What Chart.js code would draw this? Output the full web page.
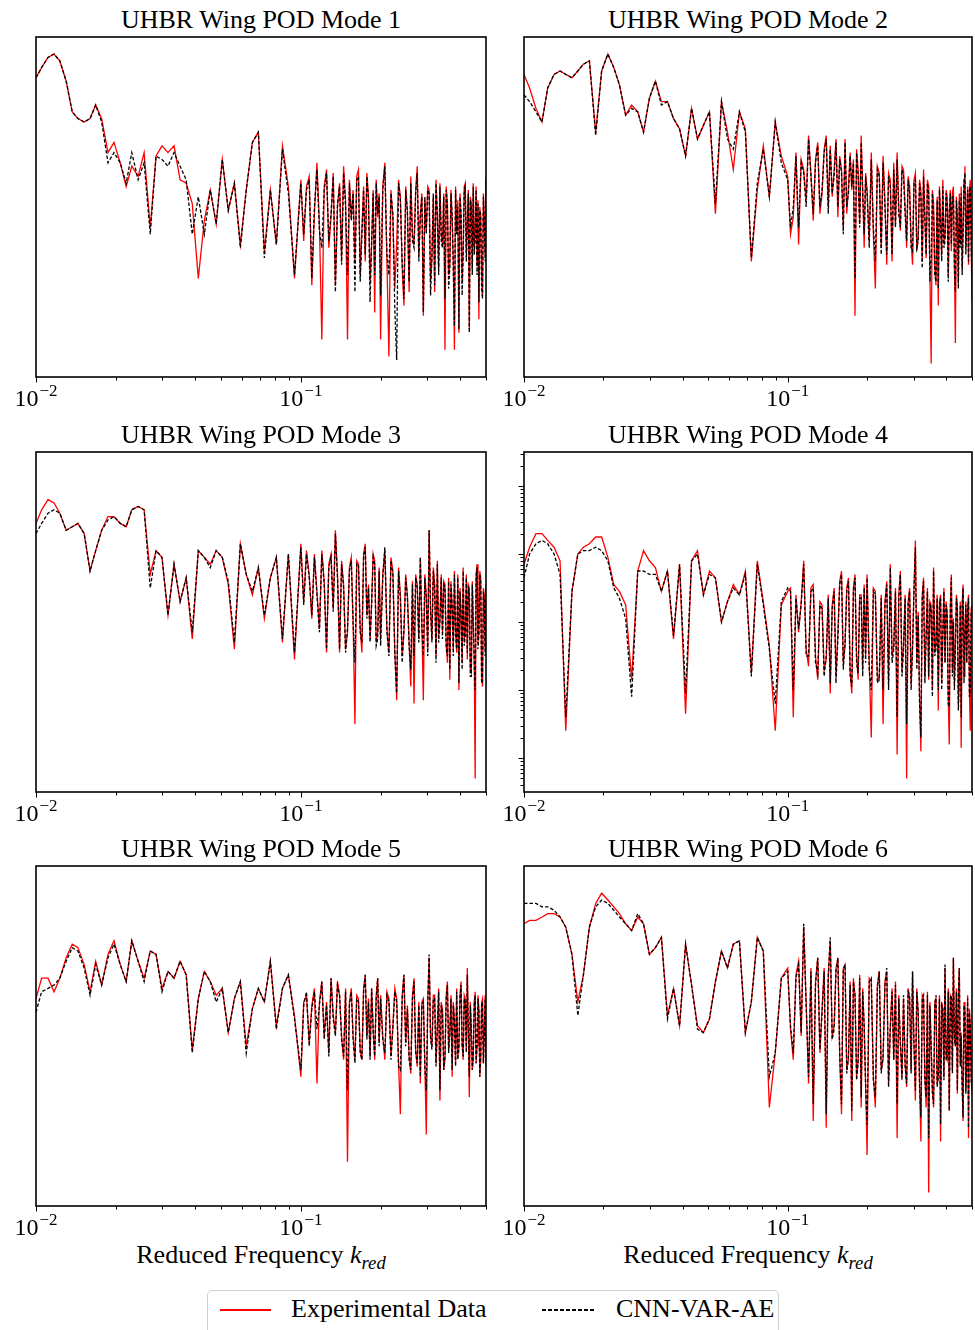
<!DOCTYPE html>
<html>
<head>
<meta charset="utf-8">
<script src="https://cdn.jsdelivr.net/npm/chart.js"></script>
<style>
  body { margin: 0; background: #fff; }
  #page { position: relative; width: 975px; height: 1330px; overflow: hidden; background: #fff;
          font-family: "Liberation Serif", "DejaVu Serif", serif; color: #000; }
  canvas { position: absolute; }
  .title { position: absolute; text-align: center; font-size: 26px; line-height: 30px; white-space: nowrap; }
  .xlabel { position: absolute; text-align: center; font-size: 26px; line-height: 30px; white-space: nowrap; }
  .xlabel sub { font-size: 0.72em; vertical-align: -0.3em; line-height: 0; }
  #legend { position: absolute; left: 207px; top: 1290px; width: 570px; height: 52px;
            border: 1px solid #d0d0d0; border-radius: 5px; background: #fff; }
  #legend .txt { position: absolute; top: 3px; font-size: 26px; line-height: 30px; white-space: nowrap; }
  #legend .solid { position: absolute; left: 12px; top: 18px; width: 51px; height: 1.5px; background: #ff0000; }
  #legend .dash { position: absolute; left: 334px; top: 18px; width: 54px; height: 1.5px;
                  background: repeating-linear-gradient(to right, #000 0 4px, transparent 4px 6px); }
</style>
</head>
<body>
<div id="page">
  <div id="legend">
    <div class="solid"></div><div class="txt" style="left:83px">Experimental Data</div>
    <div class="dash"></div><div class="txt" style="left:408px">CNN-VAR-AE</div>
  </div>
</div>
<script>
// Reduced frequency grid (shared by all modes)
const FREQ = [
  0.0100, 0.0105, 0.0111, 0.0117, 0.0123, 0.0130, 0.0137, 0.0144, 0.0152, 0.0160, 0.0168,
  0.0177, 0.0187, 0.0197, 0.0208, 0.0219, 0.0230, 0.0243, 0.0256, 0.0270, 0.0284, 0.0299,
  0.0315, 0.0332, 0.0350, 0.0369, 0.0389, 0.0410, 0.0432, 0.0455, 0.0479, 0.0505, 0.0532,
  0.0561, 0.0591, 0.0622, 0.0656, 0.0691, 0.0728, 0.0767, 0.0808, 0.0852, 0.0897, 0.0946,
  0.1000, 0.1025, 0.1050, 0.1075, 0.1100, 0.1125, 0.1150, 0.1175, 0.1200, 0.1225,
  0.1250, 0.1275, 0.1300, 0.1325, 0.1350, 0.1375, 0.1400, 0.1425, 0.1450, 0.1475,
  0.1500, 0.1525, 0.1550, 0.1575, 0.1600, 0.1625, 0.1650, 0.1675, 0.1700, 0.1725,
  0.1750, 0.1775, 0.1800, 0.1825, 0.1850, 0.1875, 0.1900, 0.1925, 0.1950, 0.1975,
  0.2000, 0.2038, 0.2075, 0.2113, 0.2150, 0.2188, 0.2225, 0.2263, 0.2300, 0.2338,
  0.2375, 0.2413, 0.2450, 0.2488, 0.2525, 0.2563, 0.2600, 0.2638, 0.2675, 0.2713,
  0.2750, 0.2788, 0.2825, 0.2863, 0.2900, 0.2938, 0.2975, 0.3013, 0.3050, 0.3088,
  0.3125, 0.3163, 0.3200, 0.3238, 0.3275, 0.3313, 0.3350, 0.3388, 0.3425, 0.3463,
  0.3500, 0.3538, 0.3575, 0.3613, 0.3650, 0.3688, 0.3725, 0.3763, 0.3800, 0.3838,
  0.3875, 0.3913, 0.3950, 0.3988, 0.4025, 0.4063, 0.4100, 0.4138, 0.4175, 0.4213,
  0.4250, 0.4288, 0.4325, 0.4363, 0.4400, 0.4438, 0.4475, 0.4513, 0.4550, 0.4588,
  0.4625, 0.4663, 0.4700, 0.4738, 0.4775, 0.4813, 0.4850, 0.4888, 0.4925, 0.4963,
  0.5000
];

// Spectral amplitude in dB (20 dB per decade)
const MODE1_EXP = [
  -12, -9, -6, -5, -7, -13, -22, -24, -25, -24, -20,
  -24, -34, -31, -37, -44, -38, -41, -34, -56, -35, -32,
  -34, -32, -42, -43, -49, -71, -54, -45, -55, -36, -51,
  -43, -61, -45, -31, -28, -63, -45, -61, -32, -44, -71,
  -42, -60, -44, -41, -73, -52, -37, -55, -89, -44, -39, -62, -53, -40, -73, -50, -43, -65, -38, -48,
  -89, -42, -53, -45, -66, -41, -39, -70, -57, -44, -66, -40, -47, -72, -61, -45, -81, -42, -53, -46,
  -89, -44, -37, -66, -94, -45, -53, -74, -61, -42, -47, -68, -79, -44, -51, -75, -41, -58, -61, -45,
  -38, -64, -53, -46, -82, -48, -57, -44, -45, -72, -65, -47, -75, -42, -53, -68, -43, -58, -61, -46,
  -92, -44, -49, -70, -67, -45, -53, -66, -92, -44, -57, -48, -87, -46, -53, -72, -62, -44, -43, -64,
  -55, -45, -86, -47, -49, -68, -43, -62, -59, -44, -67, -48, -83, -50, -53, -70, -76, -46, -53, -64,
  -41
];
const MODE1_CNN = [
  -12, -9, -6, -5, -7, -13, -22, -24, -25, -24, -20,
  -25, -37, -34, -37, -43, -34, -42, -37, -58, -35, -36,
  -38, -34, -38, -42, -58, -47, -58, -45, -55, -36, -51,
  -43, -62, -45, -31, -28, -65, -45, -61, -33, -46, -70,
  -43, -58, -45, -42, -71, -50, -39, -57, -62, -45, -40, -60, -52, -41, -75, -49, -44, -67, -40, -50,
  -70, -43, -54, -46, -75, -42, -41, -72, -58, -45, -64, -41, -48, -78, -60, -46, -70, -43, -52, -47,
  -76, -45, -38, -64, -70, -46, -52, -80, -95, -43, -48, -66, -77, -45, -52, -72, -43, -60, -62, -46,
  -40, -66, -52, -47, -81, -47, -58, -45, -46, -76, -64, -46, -73, -43, -52, -70, -44, -60, -62, -47,
  -77, -45, -50, -74, -68, -46, -52, -68, -85, -45, -58, -50, -86, -47, -52, -76, -64, -45, -44, -66,
  -56, -46, -87, -48, -50, -70, -44, -64, -60, -45, -70, -49, -78, -51, -52, -74, -77, -47, -54, -66,
  -42
];

const MODE2_EXP = [
  -11, -15, -21, -25, -15, -11, -10, -11, -12, -10, -8,
  -7, -28, -10, -5, -9, -14, -23, -20, -22, -28, -18,
  -13, -19, -19, -24, -27, -35, -21, -30, -26, -22, -52,
  -19, -28, -39, -22, -27, -66, -45, -32, -47, -25, -35,
  -41, -58, -53, -34, -61, -36, -39, -48, -29, -40, -54, -36, -31, -52, -46, -33, -29, -50, -32, -47,
  -39, -30, -53, -35, -39, -56, -30, -52, -44, -34, -45, -36, -82, -33, -39, -55, -29, -45, -62, -40,
  -45, -60, -34, -58, -74, -38, -40, -62, -35, -48, -67, -40, -42, -66, -37, -55, -34, -50, -57, -38,
  -39, -50, -62, -41, -44, -60, -67, -42, -40, -63, -59, -42, -45, -66, -39, -52, -65, -42, -44, -70,
  -96, -45, -49, -68, -73, -47, -79, -44, -53, -64, -42, -60, -59, -45, -47, -70, -51, -45, -63, -46,
  -44, -66, -90, -47, -53, -72, -46, -60, -44, -68, -57, -42, -38, -62, -53, -44, -67, -45, -42, -60,
  -78
];
const MODE2_CNN = [
  -17, -19, -22, -25, -15, -11, -10, -11, -12, -10, -8,
  -7, -29, -10, -5, -9, -14, -23, -21, -22, -28, -18,
  -13, -20, -19, -24, -27, -35, -21, -30, -26, -22, -49,
  -19, -30, -33, -22, -28, -65, -43, -33, -47, -25, -37,
  -42, -56, -50, -35, -56, -37, -40, -50, -30, -41, -52, -37, -32, -50, -45, -34, -30, -52, -33, -46,
  -41, -31, -50, -36, -40, -58, -31, -50, -46, -35, -44, -37, -71, -34, -41, -56, -31, -46, -58, -41,
  -46, -62, -36, -56, -66, -39, -41, -64, -37, -50, -64, -41, -44, -64, -39, -56, -36, -52, -56, -39,
  -41, -52, -60, -42, -46, -62, -63, -43, -42, -62, -60, -43, -47, -68, -41, -54, -64, -43, -46, -72,
  -65, -46, -52, -70, -72, -48, -74, -45, -55, -66, -44, -62, -60, -46, -49, -72, -52, -46, -61, -47,
  -47, -68, -75, -48, -54, -74, -48, -62, -46, -70, -58, -43, -40, -64, -54, -45, -66, -46, -44, -62,
  -70
];

const MODE3_EXP = [
  -21, -17, -14, -15, -18, -23, -22, -21, -24, -35, -29,
  -23, -19, -19, -21, -22, -17, -16, -17, -36, -29, -31,
  -48, -33, -44, -37, -55, -29, -31, -33, -29, -31, -39,
  -58, -27, -36, -42, -34, -49, -37, -31, -56, -30, -61,
  -27, -44, -29, -36, -49, -30, -41, -52, -29, -38, -59, -33, -30, -46, -23, -36, -59, -32, -39, -58,
  -53, -34, -31, -50, -80, -32, -33, -52, -59, -30, -27, -48, -39, -55, -44, -30, -32, -56, -53, -34,
  -55, -36, -29, -52, -59, -31, -35, -58, -73, -34, -42, -60, -53, -36, -42, -56, -69, -38, -74, -36,
  -39, -55, -31, -50, -73, -36, -42, -58, -23, -46, -55, -34, -39, -60, -32, -54, -49, -36, -53, -38,
  -39, -56, -62, -37, -67, -38, -45, -58, -35, -52, -59, -36, -70, -40, -47, -62, -34, -55, -53, -36,
  -61, -39, -40, -64, -65, -38, -49, -60, -96, -36, -33, -56, -53, -35, -37, -66, -69, -40, -42, -58,
  -39
];
const MODE3_CNN = [
  -24, -21, -18, -17, -18, -23, -22, -21, -24, -35, -29,
  -23, -20, -19, -21, -22, -17, -16, -17, -40, -29, -31,
  -48, -33, -44, -37, -53, -29, -31, -34, -29, -31, -38,
  -56, -27, -36, -41, -34, -48, -37, -31, -55, -30, -59,
  -28, -45, -30, -37, -48, -31, -42, -53, -30, -39, -58, -34, -31, -47, -24, -37, -58, -33, -40, -59,
  -52, -35, -32, -51, -62, -33, -33, -53, -56, -31, -28, -49, -40, -56, -45, -31, -33, -57, -55, -35,
  -57, -37, -28, -53, -60, -32, -36, -60, -71, -35, -43, -62, -52, -37, -43, -57, -64, -39, -60, -37,
  -40, -56, -31, -52, -60, -37, -43, -60, -23, -47, -56, -35, -40, -62, -33, -56, -50, -37, -55, -39,
  -40, -58, -60, -38, -64, -39, -46, -60, -36, -54, -58, -37, -68, -41, -48, -64, -35, -57, -54, -37,
  -59, -40, -41, -66, -66, -39, -50, -62, -70, -37, -34, -58, -54, -36, -38, -68, -68, -41, -44, -60,
  -40
];

const MODE4_EXP = [
  -33, -28, -24, -24, -26, -28, -32, -82, -41, -30, -28,
  -27, -25, -25, -31, -39, -41, -45, -67, -35, -29, -32,
  -34, -41, -35, -55, -33, -77, -32, -29, -42, -35, -37,
  -50, -44, -39, -42, -35, -65, -32, -44, -57, -82, -45,
  -41, -40, -78, -42, -53, -44, -32, -58, -63, -40, -39, -60, -67, -44, -45, -64, -61, -42, -71, -45,
  -40, -66, -53, -38, -35, -62, -57, -40, -37, -64, -71, -40, -36, -60, -67, -42, -42, -64, -39, -60,
  -36, -62, -84, -40, -41, -66, -67, -42, -80, -44, -38, -68, -33, -60, -57, -40, -89, -42, -35, -64,
  -57, -42, -96, -44, -40, -68, -57, -40, -26, -62, -47, -72, -88, -42, -37, -66, -53, -40, -67, -44,
  -45, -70, -34, -58, -57, -42, -76, -44, -42, -68, -53, -40, -62, -44, -47, -72, -86, -45, -36, -64,
  -49, -68, -57, -42, -45, -74, -67, -44, -87, -45, -39, -66, -53, -44, -62, -46, -42, -70, -82, -46,
  -45
];
const MODE4_CNN = [
  -37, -30, -27, -26, -27, -30, -36, -78, -41, -30, -29,
  -29, -28, -29, -32, -40, -43, -49, -72, -35, -35, -36,
  -36, -41, -35, -54, -33, -71, -32, -30, -42, -36, -37,
  -50, -44, -40, -42, -36, -66, -33, -45, -58, -74, -44,
  -40, -41, -70, -43, -52, -45, -33, -60, -60, -41, -40, -62, -65, -45, -46, -66, -60, -43, -68, -46,
  -41, -68, -55, -39, -36, -64, -56, -41, -38, -66, -69, -41, -37, -62, -65, -43, -43, -66, -40, -62,
  -37, -64, -70, -41, -42, -68, -66, -43, -70, -45, -39, -70, -34, -62, -58, -41, -78, -43, -36, -66,
  -58, -43, -80, -45, -41, -70, -58, -41, -28, -64, -48, -74, -84, -43, -38, -68, -55, -41, -66, -45,
  -46, -72, -35, -60, -58, -43, -70, -45, -43, -70, -54, -41, -62, -45, -48, -74, -75, -46, -37, -66,
  -50, -70, -58, -43, -46, -76, -66, -45, -78, -46, -40, -68, -54, -45, -62, -47, -43, -72, -70, -47,
  -46
];

const MODE5_EXP = [
  -39, -33, -33, -37, -33, -27, -23, -24, -29, -37, -28,
  -35, -26, -22, -29, -34, -22, -28, -33, -25, -26, -36,
  -31, -33, -28, -32, -54, -39, -31, -34, -38, -36, -49,
  -39, -34, -53, -42, -36, -40, -28, -47, -36, -32, -44,
  -62, -40, -38, -52, -41, -36, -64, -40, -34, -50, -40, -55, -33, -44, -49, -34, -38, -50, -57, -36,
  -87, -40, -36, -50, -57, -38, -39, -54, -57, -36, -32, -50, -39, -56, -36, -48, -57, -38, -33, -52,
  -38, -50, -57, -37, -39, -56, -47, -36, -39, -58, -73, -38, -32, -52, -41, -56, -61, -38, -33, -54,
  -59, -40, -64, -40, -39, -58, -79, -40, -27, -50, -53, -38, -38, -58, -47, -36, -69, -40, -42, -60,
  -57, -38, -34, -54, -49, -38, -62, -40, -45, -58, -36, -56, -53, -38, -34, -52, -57, -38, -39, -54,
  -30, -48, -68, -40, -47, -60, -57, -40, -37, -58, -53, -38, -42, -62, -57, -40, -39, -58, -49, -38,
  -59
];
const MODE5_CNN = [
  -43, -37, -36, -35, -33, -28, -24, -25, -30, -38, -29,
  -35, -27, -23, -29, -34, -22, -28, -34, -25, -26, -37,
  -31, -33, -28, -32, -55, -39, -31, -34, -40, -36, -49,
  -39, -34, -55, -42, -36, -40, -28, -48, -36, -32, -45,
  -60, -41, -37, -53, -42, -37, -48, -41, -34, -51, -41, -56, -33, -45, -50, -35, -38, -51, -56, -37,
  -66, -41, -37, -51, -58, -39, -40, -55, -57, -37, -32, -51, -40, -57, -36, -49, -56, -39, -33, -53,
  -39, -51, -55, -38, -40, -57, -48, -37, -40, -59, -60, -39, -32, -53, -42, -57, -60, -39, -34, -55,
  -58, -41, -62, -41, -40, -59, -66, -41, -26, -51, -54, -39, -39, -59, -48, -37, -66, -41, -43, -60,
  -56, -39, -35, -55, -50, -39, -60, -41, -46, -59, -37, -57, -54, -39, -35, -53, -56, -39, -40, -55,
  -32, -49, -62, -41, -48, -60, -56, -41, -38, -58, -53, -39, -43, -62, -56, -41, -40, -58, -50, -39,
  -57
];

const MODE6_EXP = [
  -17, -16, -16, -15, -14, -14, -15, -18, -26, -40, -32,
  -18, -11, -8, -10, -12, -14, -17, -19, -15, -17, -26,
  -24, -21, -44, -36, -47, -23, -35, -47, -49, -45, -34,
  -25, -30, -23, -22, -49, -40, -21, -25, -71, -55, -33,
  -30, -48, -57, -32, -28, -50, -18, -40, -64, -30, -75, -34, -27, -55, -42, -30, -77, -32, -22, -50,
  -47, -30, -27, -56, -73, -30, -29, -60, -57, -34, -75, -33, -38, -62, -57, -32, -71, -36, -47, -64,
  -85, -33, -34, -62, -71, -35, -31, -60, -57, -34, -31, -64, -47, -36, -57, -34, -80, -38, -52, -62,
  -39, -58, -65, -36, -39, -60, -31, -52, -69, -36, -43, -64, -81, -38, -39, -62, -71, -37, -96, -40,
  -53, -66, -71, -40, -39, -64, -62, -38, -81, -40, -42, -62, -30, -56, -57, -36, -72, -38, -39, -60,
  -27, -50, -53, -36, -67, -38, -30, -58, -49, -64, -75, -40, -42, -66, -57, -38, -80, -42, -47, -62,
  -67
];
const MODE6_CNN = [
  -11, -11, -11, -12, -12, -13, -15, -18, -26, -44, -32,
  -18, -12, -10, -11, -13, -15, -17, -19, -14, -17, -26,
  -24, -21, -45, -36, -47, -23, -35, -48, -49, -45, -34,
  -25, -30, -23, -22, -49, -40, -21, -25, -62, -55, -33,
  -31, -47, -55, -33, -29, -49, -17, -41, -62, -31, -70, -35, -27, -54, -43, -31, -73, -33, -21, -51,
  -48, -31, -27, -55, -70, -31, -29, -61, -56, -35, -72, -34, -38, -63, -58, -33, -68, -37, -47, -65,
  -76, -34, -33, -63, -68, -36, -31, -61, -56, -35, -30, -65, -48, -37, -57, -35, -70, -39, -52, -63,
  -38, -59, -64, -37, -38, -61, -31, -53, -66, -37, -43, -65, -74, -39, -38, -63, -68, -38, -80, -41,
  -53, -67, -70, -41, -38, -65, -62, -39, -76, -41, -42, -63, -29, -57, -57, -37, -72, -39, -38, -61,
  -27, -51, -53, -37, -66, -39, -30, -59, -50, -65, -74, -41, -42, -67, -58, -39, -77, -43, -47, -63,
  -66
];

const TITLES = ['UHBR Wing POD Mode 1', 'UHBR Wing POD Mode 2', 'UHBR Wing POD Mode 3',
                'UHBR Wing POD Mode 4', 'UHBR Wing POD Mode 5', 'UHBR Wing POD Mode 6'];
const EXP_SERIES = [MODE1_EXP, MODE2_EXP, MODE3_EXP, MODE4_EXP, MODE5_EXP, MODE6_EXP];
const CNN_SERIES = [MODE1_CNN, MODE2_CNN, MODE3_CNN, MODE4_CNN, MODE5_CNN, MODE6_CNN];
const SERIES_LABELS = ['Experimental Data', 'CNN-VAR-AE'];

// x ticks (major at decades, minor in between) and decade labels
const X_TICKS = [0.01, 0.02, 0.03, 0.04, 0.05, 0.06, 0.07, 0.08, 0.09, 0.1, 0.2, 0.3, 0.4, 0.5];
const X_MAJOR = [0.01, 0.1];
const X_LABELS = [
  { value: 0.01, base: '10', exp: '\u22122' },
  { value: 0.1, base: '10', exp: '\u22121' }
];
const X_MIN = 0.01, X_MAX = 0.5;

// y axis: log scale, labels hidden (ticks shown only on Mode 4)
const Y_MIN = Math.pow(10, -5.5), Y_MAX = Math.pow(10, -0.5);
const Y_DECADES = [-6, -5, -4, -3, -2, -1];
const Y_MULT = [1, 2, 3, 4, 5, 6, 7, 8, 9];
const Y_TICKS = Y_DECADES.flatMap(d => Y_MULT.map(m => ({ value: m * Math.pow(10, d), major: m === 1 })))
  .filter(t => t.value >= Y_MIN && t.value <= Y_MAX);
const toAmp = db => Math.pow(10, db / 20 - 0.5);

// Layout of the 3x2 grid
const COL_LEFT = [0, 490], COL_WIDTH = [490, 485], PLOT_LEFT_PAD = [36, 34], PLOT_RIGHT_PAD = [4, 3];
const ROW_TOP = [37, 452, 866];
const FONT = '"Liberation Serif", "DejaVu Serif", serif';

// box around the plot area, matplotlib-style tick marks and 10^n labels
const axesPlugin = {
  id: 'axesMarks',
  afterDraw(chart, args, opts) {
    const { ctx, chartArea: a, scales } = chart;
    ctx.save();
    ctx.strokeStyle = '#000';
    ctx.lineWidth = 1;
    ctx.beginPath();
    X_TICKS.forEach(v => {
      const px = Math.round(scales.x.getPixelForValue(v)) + 0.5;
      const len = X_MAJOR.includes(v) ? 5.5 : 3.5;
      ctx.moveTo(px, a.bottom);
      ctx.lineTo(px, a.bottom + len);
    });
    if (opts.yTicks) {
      Y_TICKS.forEach(t => {
        const py = Math.round(scales.y.getPixelForValue(t.value)) + 0.5;
        const len = t.major ? 5.5 : 3.5;
        ctx.moveTo(a.left, py);
        ctx.lineTo(a.left - len, py);
      });
    }
    ctx.stroke();

    ctx.lineWidth = 1.6;
    ctx.strokeRect(a.left, a.top, a.right - a.left, a.bottom - a.top);

    ctx.fillStyle = '#000';
    ctx.textBaseline = 'alphabetic';
    ctx.textAlign = 'left';
    X_LABELS.forEach(l => {
      const px = scales.x.getPixelForValue(l.value);
      ctx.font = '24px ' + FONT;
      const w1 = ctx.measureText(l.base).width;
      ctx.font = '17px ' + FONT;
      const w2 = ctx.measureText(l.exp).width;
      const left = px - (w1 + w2 + 1) / 2;
      ctx.font = '24px ' + FONT;
      ctx.fillText(l.base, left, a.bottom + 29);
      ctx.font = '17px ' + FONT;
      ctx.fillText(l.exp, left + w1 + 1, a.bottom + 19);
    });
    ctx.restore();
  }
};

const page = document.getElementById('page');

TITLES.forEach((title, p) => {
  const col = p % 2, row = Math.floor(p / 2);
  const plotLeft = COL_LEFT[col] + PLOT_LEFT_PAD[col];
  const plotWidth = COL_WIDTH[col] - PLOT_LEFT_PAD[col] - PLOT_RIGHT_PAD[col];

  const t = document.createElement('div');
  t.className = 'title';
  t.style.left = plotLeft + 'px';
  t.style.width = plotWidth + 'px';
  t.style.top = (ROW_TOP[row] - 32) + 'px';
  t.textContent = title;
  page.appendChild(t);

  if (row === 2) {
    const xl = document.createElement('div');
    xl.className = 'xlabel';
    xl.style.left = plotLeft + 'px';
    xl.style.width = plotWidth + 'px';
    xl.style.top = '1240px';
    xl.innerHTML = 'Reduced Frequency <i>k</i><sub><i>red</i></sub>';
    page.appendChild(xl);
  }

  const canvas = document.createElement('canvas');
  canvas.width = COL_WIDTH[col];
  canvas.height = 400;
  canvas.style.left = COL_LEFT[col] + 'px';
  canvas.style.top = (ROW_TOP[row] - 7) + 'px';
  page.appendChild(canvas);

  const toPoints = vals => FREQ.map((k, i) => ({ x: k, y: toAmp(vals[i]) }));

  new Chart(canvas.getContext('2d'), {
    type: 'line',
    data: {
      datasets: [
        { label: SERIES_LABELS[0], data: toPoints(EXP_SERIES[p]), borderColor: '#ff0000',
          borderWidth: 1.3, pointRadius: 0, tension: 0, order: 2 },
        { label: SERIES_LABELS[1], data: toPoints(CNN_SERIES[p]), borderColor: '#000000',
          borderWidth: 1.3, borderDash: [3.5, 2], pointRadius: 0, tension: 0, order: 1 }
      ]
    },
    options: {
      responsive: false,
      animation: false,
      devicePixelRatio: 1,
      events: [],
      layout: { padding: { left: PLOT_LEFT_PAD[col], right: PLOT_RIGHT_PAD[col], top: 7, bottom: 13 } },
      plugins: {
        legend: { display: false }, tooltip: { enabled: false }, title: { display: false },
        axesMarks: { yTicks: p === 3 }
      },
      scales: {
        x: {
          type: 'logarithmic', min: X_MIN, max: X_MAX,
          afterBuildTicks: s => { s.ticks = X_TICKS.map(v => ({ value: v })); },
          afterFit: s => { s.height = 40; s.paddingLeft = 0; s.paddingRight = 0; },
          border: { display: false },
          grid: { display: false },
          ticks: { display: false }
        },
        y: {
          type: 'logarithmic', min: Y_MIN, max: Y_MAX,
          display: false
        }
      }
    },
    plugins: [axesPlugin]
  });
});
</script>
</body>
</html>
